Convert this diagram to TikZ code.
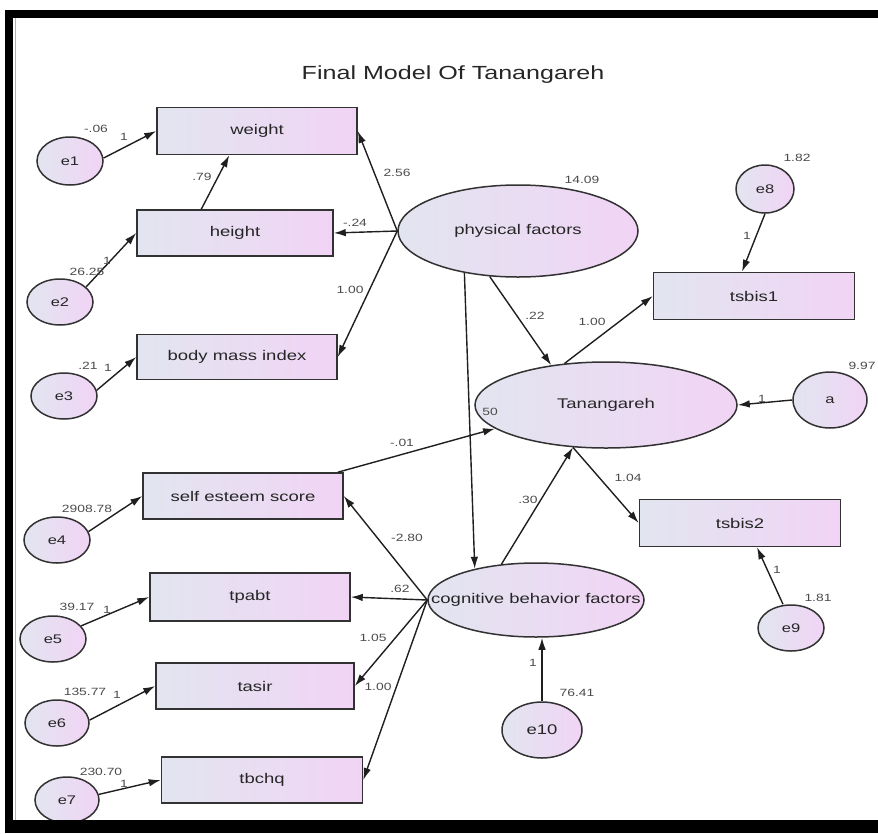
\documentclass[tikz,border=0pt]{standalone}
\usepackage{fontspec}
\setmainfont{Liberation Sans}
\usepackage{graphicx}
\usetikzlibrary{shapes.geometric,arrows.meta,calc}
\definecolor{boxL}{RGB}{226,229,240}
\definecolor{boxR}{RGB}{241,212,245}
\definecolor{edgeC}{RGB}{50,50,50}
\definecolor{lblC}{RGB}{75,75,75}
\newcommand{\hs}[1]{\scalebox{1.32}[1]{#1}}
\begin{document}
\begin{tikzpicture}[x=1pt,y=-1pt,
  obs/.style={draw=edgeC, line width=1.5pt, left color=boxL, right color=boxR, minimum width=200pt, minimum height=46pt, inner sep=0pt, font=\fontsize{14}{16}\selectfont, text=black!85},
  lat/.style={ellipse, draw=edgeC, line width=1.5pt, left color=boxL, right color=boxR, inner sep=0pt, font=\fontsize{14}{16}\selectfont, text=black!85},
  err/.style={lat, font=\fontsize{12.5}{14}\selectfont},
  arr/.style={draw=black!88, line width=1.4pt, -{Latex[length=12pt,width=7.5pt]}},
  lbl/.style={font=\fontsize{10.5}{12}\selectfont, text=lblC, inner sep=0pt}
]
\useasboundingbox (0,0) rectangle (878,833);
% frame
\fill[black] (5,10) rectangle (878,18);
\fill[black] (5,10) rectangle (13,833);
\draw[gray!60, line width=1pt] (15.5,18) -- (15.5,820);

% title
\node[font=\fontsize{19}{22}\selectfont, text=black!85] (title) at (453,75) {\hs{Final Model Of Tanangareh}};

% observed boxes
\node[obs, minimum width=200pt, minimum height=47pt] (weight) at (257,131) {\hs{weight}};
\node[obs, minimum width=196pt, minimum height=46pt] (height) at (235,233) {\hs{height}};
\node[obs, minimum width=200pt, minimum height=45pt] (bmi) at (237,357) {\hs{body mass index}};
\node[obs, minimum width=201pt, minimum height=47pt] (tsbis1) at (754,296) {\hs{tsbis1}};
\node[obs, minimum width=201pt, minimum height=47pt] (tsbis2) at (740,523) {\hs{tsbis2}};
\node[obs, minimum width=200pt, minimum height=46pt] (self) at (243,496) {\hs{self esteem score}};
\node[obs, minimum width=200pt, minimum height=48pt] (tpabt) at (250,597) {\hs{tpabt}};
\node[obs, minimum width=198pt, minimum height=46pt] (tasir) at (255,686) {\hs{tasir}};
\node[obs, minimum width=201pt, minimum height=46pt] (tbchq) at (262,780) {\hs{tbchq}};

% latent ellipses
\node[lat, minimum width=240pt, minimum height=92pt] (phys) at (518,231) {\hs{physical factors}};
\node[lat, minimum width=262pt, minimum height=86pt] (tan) at (606,405) {\hs{Tanangareh}};
\node[lat, minimum width=216pt, minimum height=74pt] (cog) at (536,600) {\makebox[0pt]{\hs{cognitive behavior factors}}};

% error terms
\node[err, minimum width=66pt, minimum height=48pt] (e1) at (70,161) {\hs{e1}};
\node[err, minimum width=66pt, minimum height=46pt] (e2) at (60,302) {\hs{e2}};
\node[err, minimum width=66pt, minimum height=46pt] (e3) at (64,396) {\hs{e3}};
\node[err, minimum width=66pt, minimum height=46pt] (e4) at (57,540) {\hs{e4}};
\node[err, minimum width=66pt, minimum height=46pt] (e5) at (53,639) {\hs{e5}};
\node[err, minimum width=64pt, minimum height=46pt] (e6) at (57,723) {\hs{e6}};
\node[err, minimum width=64pt, minimum height=46pt] (e7) at (67,800) {\hs{e7}};
\node[err, minimum width=58pt, minimum height=48pt] (e8) at (765,189) {\hs{e8}};
\node[err, minimum width=74pt, minimum height=56pt] (a) at (830,400) {\hs{a}};
\node[err, minimum width=66pt, minimum height=46pt] (e9) at (791,628) {\hs{e9}};
\node[err, minimum width=80pt, minimum height=56pt, font=\fontsize{14}{16}\selectfont] (e10) at (542,730) {\hs{e10}};

% frame bottom over e7
\fill[black] (5,820) rectangle (878,833);

% connectors
\draw[arr] (e1.5) -- (weight.west);
\draw[arr] (e2.30) -- (height.west);
\draw[arr] (e3.10) -- (bmi.west);
\draw[arr] (e4.15) -- (self.west);
\draw[arr] (e5.25) -- (tpabt.west);
\draw[arr] (e6.5) -- (tasir.west);
\draw[arr] (e7.10) -- (tbchq.west);
\draw[arr] ($(height.north west)+(65,0)$) -- ($(weight.south west)+(73,0)$);
\draw[arr] (phys.west) -- (weight.east);
\draw[arr] (phys.west) -- (height.east);
\draw[arr] (phys.west) -- (bmi.east);
\draw[arr] (phys.238) -- (tan.144);
\draw[arr] (phys.218) -- (cog.153);
\draw[arr] (tan.135) -- (tsbis1.west);
\draw[arr] (e8.south) -- ($(tsbis1.north)+(-12,0)$);
\draw[arr] (a.west) -- (tan.east);
\draw[arr] (tan.232) -- (tsbis2.west);
\draw[arr] ($(e9.north)+(-8,0)$) -- ($(tsbis2.south)+(17,0)$);
\draw[arr] (cog.134) -- (tan.232);
\draw[arr] ($(self.north east)+(-6,0)$) -- (tan.192);
\draw[arr] (cog.west) -- (self.east);
\draw[arr] (cog.west) -- (tpabt.east);
\draw[arr] (cog.west) -- (tasir.east);
\draw[arr] (cog.west) -- (tbchq.east);
\draw[arr] (e10.north) -- (cog.south -| e10.north);

% labels
\node[lbl] (l1) at (96,129) {\hs{-.06}};
\node[lbl] (l2) at (124,137) {\hs{1}};
\node[lbl] (l3) at (202,177) {\hs{.79}};
\node[lbl] (l4) at (107,261) {\hs{1}};
\node[lbl] (l5) at (87,272) {\hs{26.25}};
\node[lbl] (l6) at (397,173) {\hs{2.56}};
\node[lbl] (l7) at (355,223) {\hs{-.24}};
\node[lbl] (l8) at (350,290) {\hs{1.00}};
\node[lbl] (l9) at (88,366) {\hs{.21}};
\node[lbl] (l10) at (108,368) {\hs{1}};
\node[lbl] (l11) at (582,180) {\hs{14.09}};
\node[lbl] (l12) at (535,316) {\hs{.22}};
\node[lbl] (l13) at (797,158) {\hs{1.82}};
\node[lbl] (l14) at (747,236) {\hs{1}};
\node[lbl] (l15) at (592,322) {\hs{1.00}};
\node[lbl] (l16) at (862,366) {\hs{9.97}};
\node[lbl] (l17) at (762,399) {\hs{1}};
\node[lbl] (l18) at (490,412) {\hs{50}};
\node[lbl] (l19) at (402,443) {\hs{-.01}};
\node[lbl] (l20) at (528,500) {\hs{.30}};
\node[lbl] (l21) at (628,478) {\hs{1.04}};
\node[lbl] (l22) at (777,570) {\hs{1}};
\node[lbl] (l23) at (818,598) {\hs{1.81}};
\node[lbl] (l24) at (87,509) {\hs{2908.78}};
\node[lbl] (l25) at (407,538) {\hs{-2.80}};
\node[lbl] (l26) at (400,589) {\hs{.62}};
\node[lbl] (l27) at (77,607) {\hs{39.17}};
\node[lbl] (l28) at (107,610) {\hs{1}};
\node[lbl] (l29) at (373,638) {\hs{1.05}};
\node[lbl] (l30) at (85,692) {\hs{135.77}};
\node[lbl] (l31) at (117,695) {\hs{1}};
\node[lbl] (l32) at (378,687) {\hs{1.00}};
\node[lbl] (l33) at (101,772) {\hs{230.70}};
\node[lbl] (l34) at (124,784) {\hs{1}};
\node[lbl] (l35) at (533,663) {\hs{1}};
\node[lbl] (l36) at (577,693) {\hs{76.41}};
\end{tikzpicture}
\end{document}
